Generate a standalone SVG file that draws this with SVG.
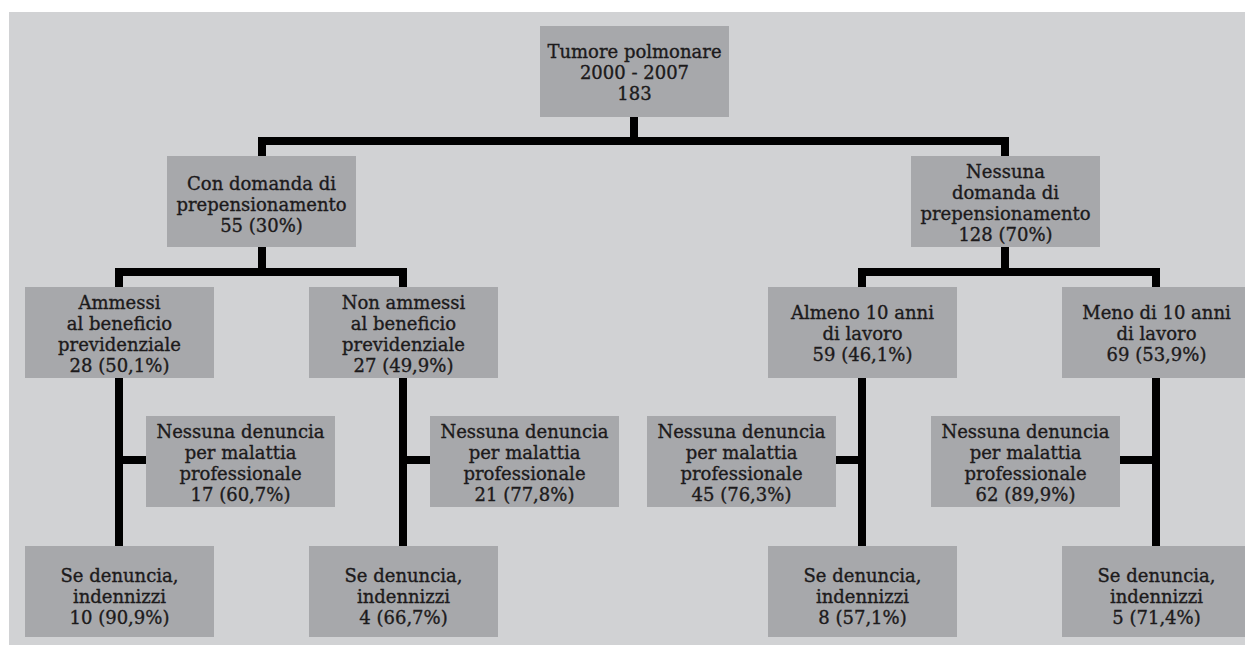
<svg xmlns="http://www.w3.org/2000/svg" width="1245" height="645" viewBox="0 0 1245 645">
  <style>
    .panel { fill: #d1d2d4; }
    .box { fill: #a7a8ab; }
    .lbl { font-family: "DejaVu Serif", "Liberation Serif", serif; font-size: 18px; fill: #1c1a1b; stroke: #1c1a1b; stroke-width: 0.35; text-anchor: middle; }
    .wire { fill: none; stroke: #000; stroke-width: 8; stroke-linejoin: miter; stroke-linecap: butt; }
  </style>

  <rect class="panel" x="9" y="12" width="1236" height="633"/>

  <!-- connectors -->
  <g id="connectors">
    <path class="wire" d="M634,117 V141"/>
    <path class="wire" d="M262,156 V141 H1005 V156"/>
    <path class="wire" d="M262,247 V272"/>
    <path class="wire" d="M119,287 V272 H403 V287"/>
    <path class="wire" d="M1005,247 V272"/>
    <path class="wire" d="M862,287 V272 H1156 V287"/>
    <path class="wire" d="M119,378 V546"/>
    <path class="wire" d="M403,378 V546"/>
    <path class="wire" d="M862,378 V546"/>
    <path class="wire" d="M1156,378 V546"/>
    <path class="wire" d="M119,460 H146"/>
    <path class="wire" d="M403,460 H430"/>
    <path class="wire" d="M836,460 H862"/>
    <path class="wire" d="M1120,460 H1156"/>
  </g>

  <g id="root">
    <rect class="box" x="540" y="26" width="189" height="91"/>
    <text class="lbl" x="634.5" y="58">Tumore polmonare</text>
    <text class="lbl" x="634.5" y="79">2000 - 2007</text>
    <text class="lbl" x="634.5" y="100">183</text>
  </g>

  <g id="con-domanda">
    <rect class="box" x="167" y="156" width="189" height="91"/>
    <text class="lbl" x="261.5" y="190">Con domanda di</text>
    <text class="lbl" x="261.5" y="211">prepensionamento</text>
    <text class="lbl" x="261.5" y="232">55 (30%)</text>
  </g>

  <g id="nessuna-domanda">
    <rect class="box" x="911" y="156" width="189" height="91"/>
    <text class="lbl" x="1005.5" y="178">Nessuna</text>
    <text class="lbl" x="1005.5" y="199">domanda di</text>
    <text class="lbl" x="1005.5" y="220">prepensionamento</text>
    <text class="lbl" x="1005.5" y="241">128 (70%)</text>
  </g>

  <g id="ammessi">
    <rect class="box" x="25" y="287" width="189" height="91"/>
    <text class="lbl" x="119.5" y="309">Ammessi</text>
    <text class="lbl" x="119.5" y="330">al beneficio</text>
    <text class="lbl" x="119.5" y="351">previdenziale</text>
    <text class="lbl" x="119.5" y="372">28 (50,1%)</text>
  </g>

  <g id="non-ammessi">
    <rect class="box" x="309" y="287" width="189" height="91"/>
    <text class="lbl" x="403.5" y="309">Non ammessi</text>
    <text class="lbl" x="403.5" y="330">al beneficio</text>
    <text class="lbl" x="403.5" y="351">previdenziale</text>
    <text class="lbl" x="403.5" y="372">27 (49,9%)</text>
  </g>

  <g id="almeno-10">
    <rect class="box" x="768" y="287" width="189" height="91"/>
    <text class="lbl" x="862.5" y="319">Almeno 10 anni</text>
    <text class="lbl" x="862.5" y="340">di lavoro</text>
    <text class="lbl" x="862.5" y="361">59 (46,1%)</text>
  </g>

  <g id="meno-10">
    <rect class="box" x="1062" y="287" width="189" height="91"/>
    <text class="lbl" x="1156.5" y="319">Meno di 10 anni</text>
    <text class="lbl" x="1156.5" y="340">di lavoro</text>
    <text class="lbl" x="1156.5" y="361">69 (53,9%)</text>
  </g>

  <g id="nessuna-denuncia-17">
    <rect class="box" x="146" y="416" width="189" height="91"/>
    <text class="lbl" x="240.5" y="438">Nessuna denuncia</text>
    <text class="lbl" x="240.5" y="459">per malattia</text>
    <text class="lbl" x="240.5" y="480">professionale</text>
    <text class="lbl" x="240.5" y="501">17 (60,7%)</text>
  </g>

  <g id="nessuna-denuncia-21">
    <rect class="box" x="430" y="416" width="189" height="91"/>
    <text class="lbl" x="524.5" y="438">Nessuna denuncia</text>
    <text class="lbl" x="524.5" y="459">per malattia</text>
    <text class="lbl" x="524.5" y="480">professionale</text>
    <text class="lbl" x="524.5" y="501">21 (77,8%)</text>
  </g>

  <g id="nessuna-denuncia-45">
    <rect class="box" x="647" y="416" width="189" height="91"/>
    <text class="lbl" x="741.5" y="438">Nessuna denuncia</text>
    <text class="lbl" x="741.5" y="459">per malattia</text>
    <text class="lbl" x="741.5" y="480">professionale</text>
    <text class="lbl" x="741.5" y="501">45 (76,3%)</text>
  </g>

  <g id="nessuna-denuncia-62">
    <rect class="box" x="931" y="416" width="189" height="91"/>
    <text class="lbl" x="1025.5" y="438">Nessuna denuncia</text>
    <text class="lbl" x="1025.5" y="459">per malattia</text>
    <text class="lbl" x="1025.5" y="480">professionale</text>
    <text class="lbl" x="1025.5" y="501">62 (89,9%)</text>
  </g>

  <g id="indennizzi-10">
    <rect class="box" x="25" y="546" width="189" height="91"/>
    <text class="lbl" x="119.5" y="582">Se denuncia,</text>
    <text class="lbl" x="119.5" y="603">indennizzi</text>
    <text class="lbl" x="119.5" y="624">10 (90,9%)</text>
  </g>

  <g id="indennizzi-4">
    <rect class="box" x="309" y="546" width="189" height="91"/>
    <text class="lbl" x="403.5" y="582">Se denuncia,</text>
    <text class="lbl" x="403.5" y="603">indennizzi</text>
    <text class="lbl" x="403.5" y="624">4 (66,7%)</text>
  </g>

  <g id="indennizzi-8">
    <rect class="box" x="768" y="546" width="189" height="91"/>
    <text class="lbl" x="862.5" y="582">Se denuncia,</text>
    <text class="lbl" x="862.5" y="603">indennizzi</text>
    <text class="lbl" x="862.5" y="624">8 (57,1%)</text>
  </g>

  <g id="indennizzi-5">
    <rect class="box" x="1062" y="546" width="189" height="91"/>
    <text class="lbl" x="1156.5" y="582">Se denuncia,</text>
    <text class="lbl" x="1156.5" y="603">indennizzi</text>
    <text class="lbl" x="1156.5" y="624">5 (71,4%)</text>
  </g>
</svg>
